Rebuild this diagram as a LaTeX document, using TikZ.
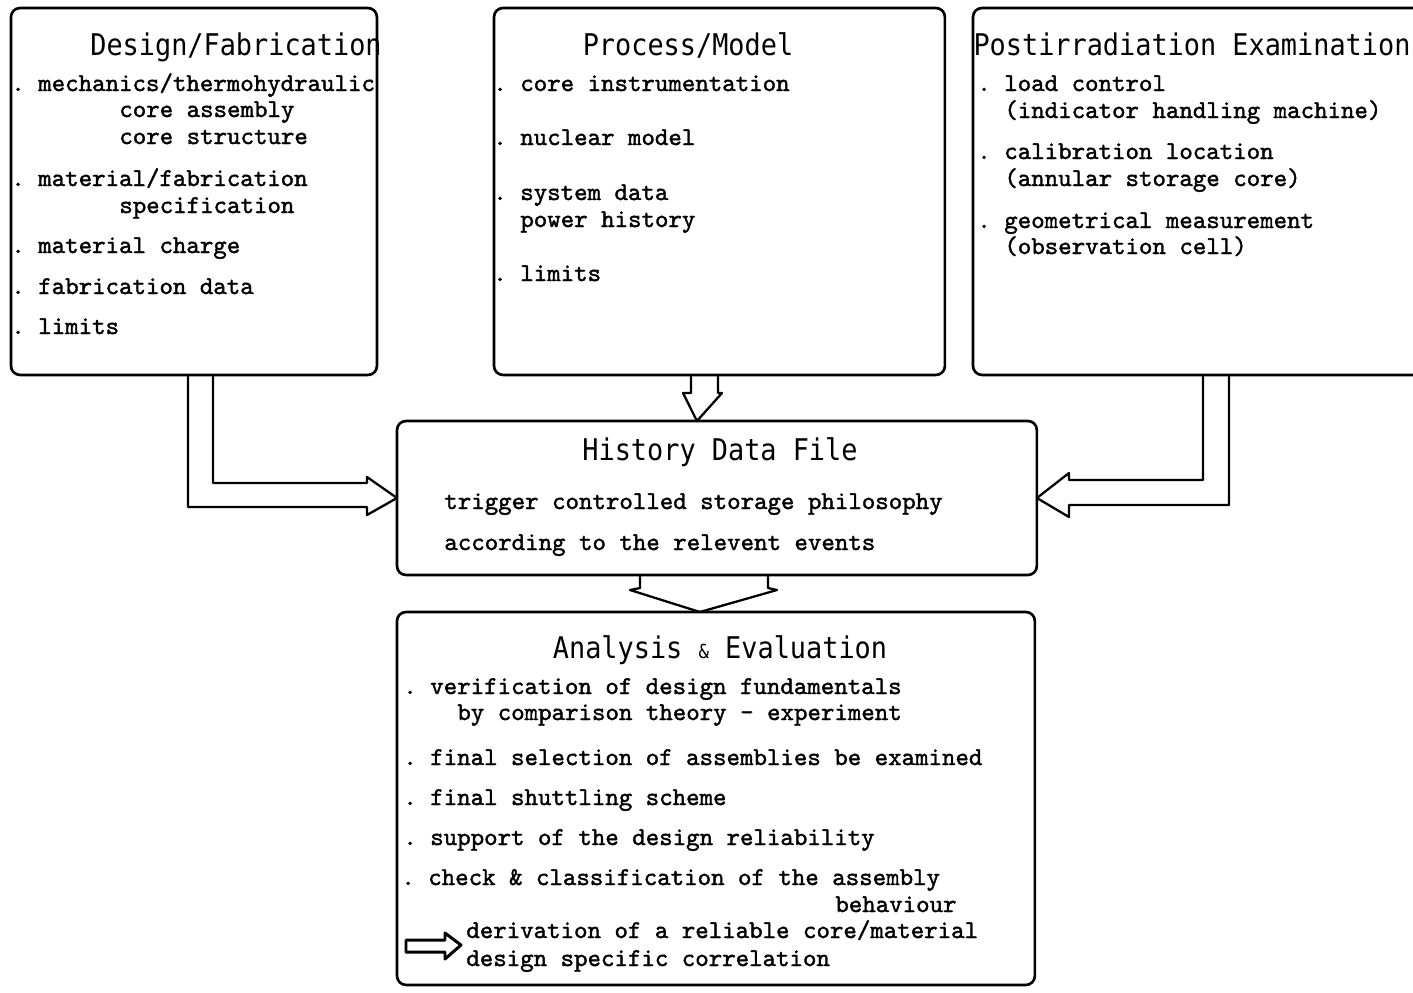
\documentclass[tikz,border=0pt]{standalone}
\usepackage{fontspec}
\setmonofont{lmmono10-regular}[Extension=.otf, FakeBold=1.5]
\newfontfamily\headfont[FakeStretch=0.9]{DejaVu Sans Mono}
\usetikzlibrary{calc}

\begin{document}
\frenchspacing
\begin{tikzpicture}[x=0.02cm, y=-0.02cm,
    panel/.style={draw, line width=1.5pt, rounded corners=0.18cm, anchor=north west, inner sep=0pt, outer sep=0pt},
    heading/.style={anchor=base, inner sep=0pt, font=\headfont\fontsize{17}{20}\selectfont},
    txt/.style={anchor=base west, inner sep=0pt, font=\ttfamily\fontsize{14.6}{17}\selectfont},
    dblarrow/.style={line width=1.3pt, line join=round}]
                \useasboundingbox (0,0) rectangle (1413,992);
                \clip (0,0) rectangle (1413,992);

                % Upper panels
                \node[panel, minimum width=7.32cm, minimum height=7.34cm] (design) at (11,8) {};
                \node[panel, minimum width=9.02cm, minimum height=7.34cm] (process) at (494,8) {};
                \node[panel, minimum width=9.1cm, minimum height=7.34cm] (postirr) at (973,8) {};

                % Panel headings
                \node[heading] (designtitle) at (236,55) {Design/Fabrication};
                \node[heading] (processtitle) at (688,55) {Process/Model};
                \node[heading] (postirrtitle) at (1192,55) {Postirradiation Examination};

                % Design/Fabrication items
                \foreach \x/\y/\t [count=\i] in {11/91/{. mechanics/thermohydraulic}, 119/117/{core assembly},
                    119/144/{core structure}, 11/186/{. material/fabrication}, 119/213/{specification},
                    11/253/{. material charge}, 11/294/{. fabrication data}, 11/334/{. limits}} {
                    \node[txt] (d\i) at (\x,\y) {\t};
                }

                % Process/Model items
                \foreach \x/\y/\t [count=\i] in {493/91/{. core instrumentation}, 493/145/{. nuclear model},
                    493/200/{. system data}, 520/227/{power history}, 493/281/{. limits}} {
                    \node[txt] (p\i) at (\x,\y) {\t};
                }

                % Postirradiation items
                \foreach \x/\y/\t [count=\i] in {977/91/{. load control}, 1004/118/{(indicator handling machine)},
                    977/159/{. calibration location}, 1004/186/{(annular storage core)},
                    977/228/{. geometrical measurement}, 1004/254/{(observation cell)}} {
                    \node[txt] (e\i) at (\x,\y) {\t};
                }

                % History data file
                \node[panel, minimum width=12.8cm, minimum height=3.08cm] (history) at (397,421) {};
                \node[heading] (historytitle) at (720,460) {History Data File};
                \node[txt] (h1) at (444,509) {trigger controlled storage philosophy};
                \node[txt] (h2) at (444,550) {according to the relevent events};

                % Analysis and evaluation
                \node[panel, minimum width=12.76cm, minimum height=7.46cm] (analysis) at (397,612) {};
                \node[heading] (analysistitle) at (720,658) {Analysis {\fontsize{11}{11}\selectfont\&} Evaluation};
                \foreach \x/\y/\t [count=\i] in {403/694/{. verification of design fundamentals},
                    457/720/{by comparison theory - experiment}, 403/765/{. final selection of assemblies be examined},
                    403/805/{. final shuttling scheme}, 403/845/{. support of the design reliability},
                    401/885/{. check \& classification of the assembly}, 835/912/{behaviour},
                    466/938/{derivation of a reliable core/material}, 466/966/{design specific correlation}} {
                    \node[txt] (a\i) at (\x,\y) {\t};
                }

                % Hollow arrows into the history file
                \draw[dblarrow] ($(design.south west)+(202,0)$) |- (367,483) -- (367,477) -- (history.west)
                    -- (367,515) -- (367,507) -| ($(design.south west)+(177,0)$);
                \draw[dblarrow] ($(process.south west)+(197,0)$) -- (691,393) -- (683,393) -- ($(history.north)+(-20,0)$)
                    -- (722,393) -- (718,393) -- ($(process.south west)+(224,0)$);
                \draw[dblarrow] ($(postirr.south west)+(230,0)$) |- (1069,480) -- (1069,473) -- (history.east)
                    -- (1069,517) -- (1069,505) -| ($(postirr.south west)+(256,0)$);

                % Hollow arrow into the analysis
                \draw[dblarrow] ($(history.south)+(-77,0)$) -- (640,588) -- (630,590) -- ($(analysis.north)+(-16,0)$)
                    -- (777,590) -- (768,588) -- ($(history.south)+(51,0)$);

                % Small arrow before the derivation
                \draw[dblarrow, line width=1.7pt] (406,940) -- (445,940) -- (445,933) -- (461,945) -- (445,959) -- (445,952) -- (406,952) -- cycle;
            \end{tikzpicture}
\end{document}
